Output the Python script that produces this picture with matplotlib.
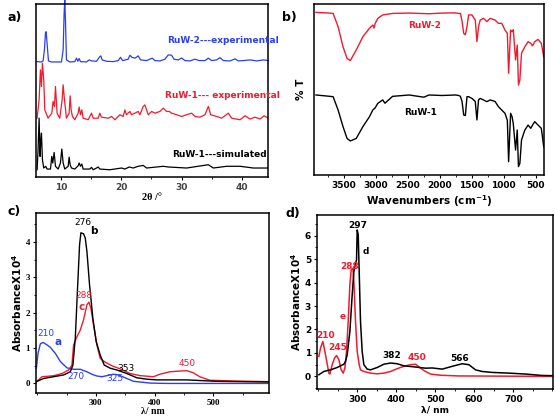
import matplotlib
matplotlib.use('Agg')
import matplotlib.pyplot as plt
from matplotlib.ticker import MultipleLocator

# ---- a) PXRD patterns (2theta, arbitrary offset intensity) ----
xrd_ruw2_x = [6.08, 6.80, 7.07, 7.29, 7.46, 7.57, 7.73, 7.96, 8.45, 10.11, 10.39, 10.55, 10.66, 10.77, 10.94,
              11.49, 12.32, 12.60, 12.82, 13.04, 13.26, 14.25, 14.70, 15.08, 15.91, 16.46, 16.63, 16.85, 17.57,
              18.67, 19.50, 19.89, 20.22, 21.16, 21.44, 21.77, 22.27, 22.82, 23.20, 24.20, 25.14, 25.58, 26.41,
              27.24, 27.79, 28.34, 28.73, 29.45, 30.00, 30.55, 31.38, 32.21, 32.93, 33.87, 34.42, 34.97, 35.80,
              36.35, 36.91, 38.01, 38.84, 39.39, 40.22, 41.33, 42.43, 43.54, 44.36]
xrd_ruw2_y = [66.7, 66.5, 67.1, 73.5, 83.1, 84.0, 77.3, 67.1, 66.5, 66.5, 73.5, 94.6, 102.3, 90.8, 67.7,
              66.5, 66.7, 68.7, 66.9, 68.5, 66.7, 66.5, 67.7, 67.1, 66.9, 69.6, 70.0, 67.7, 66.9,
              66.7, 67.3, 69.2, 67.3, 68.1, 70.4, 69.2, 68.7, 70.0, 67.7, 67.3, 68.7, 67.3, 67.1,
              68.1, 70.6, 70.4, 68.1, 67.7, 68.8, 67.3, 67.1, 68.1, 67.3, 67.3, 68.7, 67.3, 67.7,
              69.0, 67.3, 67.1, 68.3, 67.1, 67.3, 67.7, 67.1, 67.7, 67.3]

xrd_ruw1_x = [6.08, 6.41, 6.63, 6.80, 6.96, 7.18, 7.35, 7.90, 8.51, 8.73, 8.95, 9.12, 9.39, 9.83, 10.22,
              10.39, 10.61, 10.94, 11.38, 11.55, 11.71, 11.93, 12.32, 12.87, 13.04, 13.26, 13.48, 13.70,
              14.53, 15.08, 15.36, 16.19, 16.46, 16.74, 17.85, 18.40, 18.95, 19.78, 20.33, 20.61, 20.88,
              21.44, 21.71, 22.27, 22.82, 23.09, 23.65, 23.92, 24.48, 25.03, 25.58, 26.41, 26.96, 27.51,
              27.96, 28.34, 29.17, 30.00, 30.83, 31.66, 32.21, 33.04, 33.87, 34.42, 34.81, 35.80, 36.63,
              37.73, 38.29, 39.67, 40.50, 41.33, 42.15, 42.98, 43.65, 44.36]
xrd_ruw1_y = [34.0, 44.6, 61.9, 52.3, 65.8, 56.2, 38.8, 34.0, 36.9, 43.7, 40.8, 52.3, 36.9, 34.0, 44.6,
              53.3, 44.6, 34.0, 36.9, 46.9, 38.8, 35.0, 33.1, 36.9, 40.4, 36.0, 38.8, 34.0,
              33.1, 36.9, 34.0, 34.0, 36.9, 34.6, 34.0, 35.0, 33.1, 36.0, 35.0, 38.8, 36.0,
              37.9, 36.0, 36.9, 37.9, 36.0, 40.8, 41.7, 36.0, 37.9, 36.9, 37.9, 39.8, 37.9,
              37.9, 36.9, 36.0, 35.0, 36.0, 36.9, 35.0, 34.6, 36.0, 40.8, 36.0, 35.0, 34.0,
              36.9, 34.0, 33.1, 35.4, 33.5, 34.6, 33.5, 35.4, 34.0]

xrd_sim_x = [6.08, 6.24, 6.41, 6.57, 6.69, 6.80, 6.96, 7.18, 7.51, 7.73, 8.29, 8.51, 8.67, 8.90, 9.12,
             9.56, 9.94, 10.17, 10.39, 10.66, 11.22, 11.38, 11.55, 11.77, 12.32, 12.87, 13.04, 13.26,
             13.48, 13.70, 14.81, 15.08, 15.36, 15.91, 16.19, 16.46, 18.12, 20.06, 20.61, 21.33, 21.99,
             22.82, 23.65, 24.20, 26.96, 27.79, 30.83, 34.42, 35.25, 37.46, 39.67, 41.88, 44.36]
xrd_sim_y = [4.2, 15.8, 34.0, 11.9, 21.5, 25.4, 10.0, 5.2, 6.2, 4.6, 4.6, 11.9, 8.1, 14.2, 6.2,
             4.6, 8.1, 16.2, 8.1, 4.6, 6.2, 11.5, 7.1, 5.2, 4.6, 6.5, 8.1, 6.2,
             7.5, 4.6, 4.6, 5.6, 4.2, 5.2, 5.8, 4.6, 4.2, 5.2, 4.6, 5.8, 5.2,
             6.2, 6.7, 5.2, 6.2, 5.8, 5.2, 7.1, 5.2, 6.2, 6.2, 5.2, 5.2]

# ---- b) IR spectra (wavenumber, %T offset) ----
ir_ruw2_x = [3940, 3774, 3671, 3593, 3516, 3453, 3402, 3309, 3205, 3102, 3050, 3030, 3014, 2972, 2895,
             2740, 2481, 2171, 1964, 1757, 1705, 1679, 1653, 1627, 1601, 1576, 1550, 1498, 1446, 1420,
             1395, 1369, 1317, 1265, 1213, 1136, 1084, 1032, 981, 944, 924, 893, 870, 851, 815, 789,
             770, 748, 722, 670, 619, 577, 550, 515, 463, 412, 375]
ir_ruw2_y = [95.1, 94.8, 94.5, 86.7, 75.0, 68.2, 66.9, 73.1, 80.9, 85.8, 87.7, 86.0, 88.5, 91.6, 93.6,
             94.5, 94.7, 94.3, 94.7, 94.8, 94.5, 94.5, 90.0, 82.8, 82.0, 86.7, 93.6, 93.6, 90.6, 78.0,
             86.7, 90.6, 91.6, 89.7, 91.6, 90.6, 88.7, 88.7, 84.8, 82.8, 59.5, 84.8, 83.8, 85.0, 67.3, 76.0,
             52.6, 55.6, 71.2, 75.0, 78.0, 77.0, 75.5, 78.0, 79.3, 77.0, 69.2]

ir_ruw1_x = [3940, 3774, 3671, 3593, 3516, 3453, 3402, 3309, 3205, 3102, 3050, 3014, 2972, 2895, 2860,
             2740, 2481, 2250, 2171, 1964, 1757, 1705, 1679, 1653, 1627, 1601, 1576, 1550, 1498, 1446, 1420,
             1395, 1369, 1317, 1265, 1213, 1136, 1084, 1032, 981, 944, 924, 893, 870, 851, 815, 789,
             770, 748, 722, 670, 619, 577, 550, 515, 463, 412, 375]
ir_ruw1_y = [46.8, 46.2, 45.8, 38.0, 28.3, 21.4, 19.9, 21.4, 28.3, 34.1, 38.0, 39.2, 41.9, 43.9, 42.0,
             46.0, 46.8, 45.5, 46.8, 46.5, 46.8, 46.5, 46.0, 43.0, 35.1, 34.8, 45.8, 45.8, 44.8, 43.0, 32.2,
             43.9, 44.8, 43.9, 42.9, 43.9, 43.0, 40.0, 38.0, 36.1, 32.0, 7.8, 36.1, 34.1, 30.0, 14.6, 26.3,
             4.9, 6.8, 20.5, 26.3, 29.2, 27.3, 29.2, 31.2, 29.2, 27.3, 16.6]

# ---- c) UV-vis: a (blue), b (black), c (red) ----
uv_a_x = [198.6, 201.4, 205.4, 209.9, 216.7, 222.4, 230.9, 239.4, 250.7, 262.0, 273.4, 284.7, 293.2,
          301.7, 310.2, 321.5, 330.0, 338.5, 349.9, 364.0, 392.4, 420.7, 500.0, 595.0]
uv_a_y = [0.43, 0.85, 1.12, 1.16, 1.09, 1.02, 0.85, 0.62, 0.44, 0.40, 0.40, 0.33, 0.26,
          0.21, 0.19, 0.23, 0.26, 0.24, 0.16, 0.06, 0.01, 0.0, 0.0, 0.0]

uv_b_x = [198.6, 211.0, 228.0, 245.0, 256.4, 260.9, 264.9, 268.8, 272.2, 274.5, 279.0, 281.9, 284.7,
          289.2, 294.9, 300.6, 307.4, 314.2, 324.4, 335.7, 352.7, 369.7, 386.7, 403.7, 455.0, 506.0, 595.0]
uv_b_y = [0.05, 0.14, 0.19, 0.24, 0.33, 0.52, 1.28, 2.70, 3.92, 4.26, 4.23, 4.11, 3.74,
          2.79, 1.84, 1.18, 0.80, 0.52, 0.43, 0.38, 0.28, 0.16, 0.12, 0.10, 0.10, 0.06, 0.04]

uv_c_x = [198.6, 208.2, 216.7, 228.0, 242.2, 253.5, 259.2, 262.0, 267.7, 273.4, 279.0, 284.7, 288.1,
          291.5, 296.0, 301.7, 307.4, 315.9, 327.2, 341.4, 358.4, 375.4, 398.0, 409.0, 426.0, 443.0,
          455.0, 466.0, 477.0, 494.0, 534.0, 595.0]
uv_c_y = [0.05, 0.19, 0.20, 0.22, 0.28, 0.38, 0.52, 1.09, 1.32, 1.51, 1.80, 2.22, 2.30,
          2.13, 1.65, 1.09, 0.71, 0.60, 0.50, 0.41, 0.28, 0.22, 0.19, 0.26, 0.33, 0.35,
          0.36, 0.30, 0.19, 0.09, 0.07, 0.05]

# ---- d) UV-vis: d (black), e (red) ----
uv_d_x = [201.7, 214.5, 231.6, 248.7, 265.8, 270.1, 274.4, 281.2, 287.2, 291.5, 295.7, 298.3, 300.0,
          302.6, 305.1, 308.5, 312.8, 317.1, 325.6, 334.2, 351.3, 368.4, 385.5, 402.6, 419.7, 449.6,
          475.2, 492.3, 517.9, 543.6, 569.2, 586.3, 603.4, 620.5, 646.2, 688.9, 731.6, 774.4, 802.6]
uv_d_y = [0.07, 0.21, 0.28, 0.38, 0.52, 0.64, 0.92, 1.91, 3.48, 4.47, 4.82, 4.96, 6.24,
          6.05, 4.47, 2.34, 1.06, 0.50, 0.31, 0.28, 0.38, 0.52, 0.57, 0.54, 0.45, 0.40,
          0.35, 0.36, 0.31, 0.43, 0.54, 0.50, 0.28, 0.21, 0.17, 0.14, 0.10, 0.04, 0.03]

uv_e_x = [201.7, 206.0, 212.0, 218.8, 227.4, 229.9, 235.9, 241.9, 247.0, 253.0, 259.0, 264.1, 268.4,
          272.6, 276.9, 281.2, 284.6, 288.9, 291.5, 295.7, 300.0, 305.1, 308.5, 317.1, 334.2, 351.3,
          368.4, 385.5, 402.6, 419.7, 436.8, 449.6, 462.4, 475.2, 488.0, 513.7, 560.0, 802.6]
uv_e_y = [0.85, 1.21, 1.49, 0.92, 0.14, 0.10, 0.50, 0.78, 0.89, 0.71, 0.28, 0.14, 0.35,
          1.06, 2.34, 3.90, 4.54, 4.61, 4.04, 2.34, 1.06, 0.50, 0.28, 0.21, 0.14, 0.11,
          0.14, 0.21, 0.33, 0.43, 0.50, 0.52, 0.35, 0.21, 0.10, 0.05, 0.02, 0.0]

BLUE = '#2b3ff0'
RED = '#ee1c2e'
SERIF = 'Liberation Serif'

fig = plt.figure(figsize=(5.55, 4.17), dpi=100)
ax_a = fig.add_axes([0.0649, 0.5755, 0.418, 0.4149])
ax_b = fig.add_axes([0.5658, 0.5803, 0.4144, 0.4101])
ax_c = fig.add_axes([0.0649, 0.0576, 0.4198, 0.4317])
ax_d = fig.add_axes([0.5712, 0.0664, 0.4252, 0.4181])

for ax in (ax_a, ax_b, ax_c, ax_d):
    for sp in ax.spines.values():
        sp.set_linewidth(1.1)
    ax.tick_params(which='both', direction='out', top=False, right=False, labelsize=6.5, pad=1.8)
    ax.tick_params(which='major', length=2.5, width=0.8)
    ax.tick_params(which='minor', length=1.5, width=0.6)

# a)
ax_a.plot(xrd_ruw2_x, xrd_ruw2_y, color=BLUE, lw=0.9, clip_on=False)
ax_a.plot(xrd_ruw1_x, xrd_ruw1_y, color=RED, lw=0.9)
ax_a.plot(xrd_sim_x, xrd_sim_y, color='black', lw=0.9)
ax_a.set_xlim(5.9, 44.3)
ax_a.set_ylim(0, 100)
ax_a.set_yticks([])
ax_a.set_xticks([10, 20, 30, 40])
ax_a.xaxis.set_minor_locator(MultipleLocator(5))
for lb in ax_a.get_xticklabels():
    lb.set_fontweight('bold')
    lb.set_color('#444444')
ax_a.set_xlabel('2θ /°', family=SERIF, fontweight='bold', fontsize=7.5, labelpad=1)
ax_a.text(36.9, 78.7, 'RuW-2---experimental', color=BLUE, fontsize=6.5, fontweight='bold', ha='center', va='center')
ax_a.text(36.8, 47.1, 'RuW-1--- experimental', color=RED, fontsize=6.5, fontweight='bold', ha='center', va='center')
ax_a.text(36.2, 12.9, 'RuW-1---simulated', color='black', fontsize=6.5, fontweight='bold', ha='center', va='center')

# b)
ax_b.plot(ir_ruw2_x, ir_ruw2_y, color=RED, lw=1.0)
ax_b.plot(ir_ruw1_x, ir_ruw1_y, color='black', lw=1.0)
ax_b.set_xlim(3970, 370)
ax_b.set_ylim(0, 100)
ax_b.set_yticks([])
ax_b.set_xticks([3500, 3000, 2500, 2000, 1500, 1000, 500])
ax_b.xaxis.set_minor_locator(MultipleLocator(250))
for lb in ax_b.get_xticklabels():
    lb.set_fontweight('bold')
ax_b.set_xlabel('Wavenumbers (cm$^{\\mathbf{-1}}$)', fontweight='bold', fontsize=7.5, labelpad=2)
ax_b.set_ylabel('% T', fontweight='bold', fontsize=7.5, labelpad=6)
ax_b.text(2233, 87.7, 'RuW-2', color=RED, fontsize=6.5, fontweight='bold', ha='center', va='center')
ax_b.text(2295, 36.6, 'RuW-1', color='black', fontsize=6.5, fontweight='bold', ha='center', va='center')

# c)
ax_c.plot(uv_a_x, uv_a_y, color=BLUE, lw=1.0)
ax_c.plot(uv_c_x, uv_c_y, color=RED, lw=1.0)
ax_c.plot(uv_b_x, uv_b_y, color='black', lw=1.0)
ax_c.set_xlim(198, 595)
ax_c.set_ylim(-0.27, 4.82)
ax_c.set_xticks([300, 400, 500])
ax_c.set_yticks([0, 1, 2, 3, 4])
ax_c.xaxis.set_minor_locator(MultipleLocator(50))
ax_c.yaxis.set_minor_locator(MultipleLocator(0.5))
for lb in ax_c.get_xticklabels() + ax_c.get_yticklabels():
    lb.set_fontweight('bold')
    lb.set_family(SERIF)
ax_c.set_xlabel('λ/ nm', family=SERIF, fontweight='bold', fontsize=7, labelpad=0)
ax_c.set_ylabel('AbsorbanceX10$^{\\mathbf{4}}$', fontweight='bold', fontsize=7.5, labelpad=1)
c_labels = [(215.6, 1.42, '210', BLUE), (234.8, 1.18, 'a', BLUE), (278, 4.54, '276', 'black'),
            (297, 4.30, 'b', 'black'), (279, 2.48, '288', RED), (275.6, 2.16, 'c', RED),
            (266.6, 0.19, '270', BLUE), (332.9, 0.14, '325', BLUE), (351.6, 0.43, '353', 'black'),
            (456, 0.57, '450', RED)]
for x, y, s, col in c_labels:
    ax_c.text(x, y, s, color=col, fontsize=6.5 if len(s) > 1 else 7.5, ha='center', va='center',
              fontweight='bold' if len(s) == 1 else 'normal')

# d)
ax_d.plot(uv_e_x, uv_e_y, color=RED, lw=1.1)
ax_d.plot(uv_d_x, uv_d_y, color='black', lw=1.1)
ax_d.set_xlim(197, 802)
ax_d.set_ylim(-0.55, 6.88)
ax_d.set_xticks([300, 400, 500, 600, 700])
ax_d.set_yticks([0, 1, 2, 3, 4, 5, 6])
ax_d.xaxis.set_minor_locator(MultipleLocator(50))
ax_d.yaxis.set_minor_locator(MultipleLocator(0.5))
for lb in ax_d.get_xticklabels() + ax_d.get_yticklabels():
    lb.set_fontweight('bold')
ax_d.set_xlabel('λ/ nm', fontweight='bold', fontsize=6.5, labelpad=1)
ax_d.set_ylabel('AbsorbanceX10$^{\\mathbf{4}}$', fontweight='bold', fontsize=7.5, labelpad=1)
d_labels = [(302.6, 6.41, '297', 'black'), (321, 5.32, 'd', 'black'), (280, 4.68, '288', RED),
            (264, 2.55, 'e', RED), (218.8, 1.74, '210', RED), (250.4, 1.23, '245', RED),
            (388, 0.88, '382', 'black'), (452, 0.79, '450', RED), (563, 0.75, '566', 'black')]
for x, y, s, col in d_labels:
    ax_d.text(x, y, s, color=col, fontsize=6.5, fontweight='bold', ha='center', va='center')

# panel letters
for px, py, s in [(8, 17, 'a)'), (282, 17, 'b)'), (8, 212, 'c)'), (285, 213, 'd)')]:
    fig.text(px / 555, 1 - py / 417, s, fontsize=9, fontweight='bold', ha='left', va='center')

plt.savefig('out.png', dpi=100)
